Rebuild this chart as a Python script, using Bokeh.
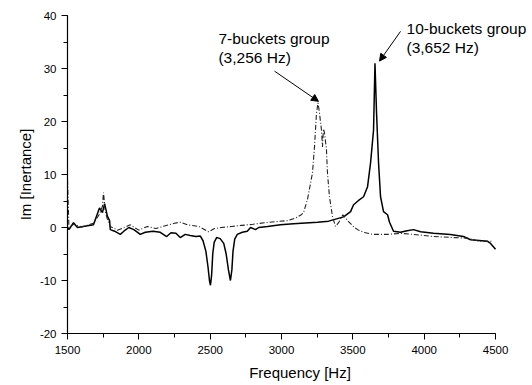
from bokeh.plotting import figure
from bokeh.models import Range1d, Label, Arrow, NormalHead, FixedTicker
from bokeh.embed import file_html
from bokeh.resources import INLINE

# 10-buckets group (solid)
freq10 = [1500, 1510, 1542, 1570, 1682, 1724, 1745, 1760, 1780, 1795, 1800, 1830, 1870, 1895,
          1930, 1965, 2010, 2045, 2100, 2150, 2195, 2225, 2260, 2290, 2325, 2360, 2400, 2430,
          2450, 2470, 2485, 2495, 2502, 2510, 2518, 2528, 2545, 2570, 2595, 2612, 2628, 2642,
          2652, 2660, 2672, 2690, 2725, 2760, 2783, 2818, 2840, 2902, 2993, 3084, 3252, 3330,
          3435, 3484, 3505, 3540, 3575, 3603, 3624, 3645, 3655, 3666, 3680, 3694, 3715, 3743,
          3757, 3785, 3834, 3880, 3925, 3975, 4065, 4184, 4275, 4325, 4444, 4465, 4500]
im10 = [0.0, -0.4, 0.9, 0.0, 0.5, 3.7, 2.8, 4.5, 2.1, 1.3, -0.4, -0.7, -1.3, -0.7,
        0.0, -0.4, -1.3, -0.9, -0.7, -0.9, -1.7, -1.0, -1.1, -1.9, -1.3, -1.5, -1.7, -1.6,
        -2.5, -4.5, -7.5, -10.0, -10.9, -9.0, -5.0, -2.8, -1.9, -2.1, -3.0, -5.0, -8.0, -10.0,
        -8.0, -4.5, -2.2, -1.3, -0.9, -0.7, 0.0, -0.4, 0.0, 0.2, 0.5, 0.7, 1.0, 1.2,
        2.0, 3.0, 4.3, 5.1, 5.8, 7.7, 12.2, 18.4, 31.0, 21.6, 12.2, 5.8, 3.0, 2.4,
        1.0, -0.7, -0.9, -0.6, -0.4, -0.8, -1.1, -1.3, -1.7, -2.3, -2.6, -3.0, -4.1]

# 7-buckets group (dash-dot)
freq7 = [1500, 1510, 1542, 1600, 1682, 1724, 1745, 1752, 1765, 1780, 1800, 1850, 1900,
         1940, 2000, 2060, 2120, 2180, 2250, 2290, 2340, 2420, 2488, 2530, 2580, 2650, 2720,
         2800, 2880, 2960, 3040, 3100, 3133, 3154, 3182, 3217, 3231, 3245, 3256, 3266, 3280,
         3287, 3294, 3301, 3315, 3322, 3336, 3357, 3378, 3400, 3430, 3470, 3510, 3540, 3575,
         3640, 3740, 3834, 3925, 4065, 4206, 4300, 4390, 4479]
im7 = [9.0, 0.0, 0.6, 0.1, 0.8, 2.5, 4.0, 6.6, 3.0, 1.5, 0.2, -0.5, 0.0,
       0.5, -0.5, 0.2, -0.2, 0.3, 0.8, 1.0, 0.5, 0.2, -0.8, -0.2, 0.0, 0.2, 0.4,
       0.6, 0.9, 1.1, 1.3, 1.8, 2.3, 2.8, 5.3, 10.3, 15.2, 21.6, 23.5, 21.6, 18.4,
       15.2, 18.6, 17.9, 14.7, 10.3, 5.8, 2.1, 0.2, 0.9, 2.4, 1.1, 0.0, -0.5, -0.9,
       -1.3, -1.3, -1.1, -1.3, -1.7, -1.9, -2.0, -2.6, -2.6]

x_ticks = [1500, 2000, 2500, 3000, 3500, 4000, 4500]
y_ticks = [-20, -10, 0, 10, 20, 30, 40]
y_tick_labels = ["-20", "-10", "0", "10", "20", "30", "40"]

FONT = "Liberation Sans"

# frame spans past 4500 so that the right-hand note is not clipped; axis bounded to data range
p = figure(width=532, height=383, output_backend="svg", toolbar_location=None,
           x_range=Range1d(1500, 4759), y_range=Range1d(-20, 40),
           min_border_left=67, min_border_right=0, min_border_top=15, min_border_bottom=49)
p.outline_line_color = None
p.grid.visible = False
p.background_fill_color = "white"
p.border_fill_color = "white"

p.line(freq10, im10, line_color="black", line_width=1.5)
p.line(freq7, im7, line_color="#222222", line_width=1.1, line_dash="5 2 1 2")

p.xaxis.bounds = (1500, 4500)
p.xaxis.ticker = FixedTicker(ticks=x_ticks, minor_ticks=list(range(1500, 4501, 250)))
p.yaxis.ticker = FixedTicker(ticks=y_ticks, minor_ticks=list(range(-20, 41, 5)))
p.yaxis.major_label_overrides = {t: s for t, s in zip(y_ticks, y_tick_labels)}
for ax in (p.xaxis[0], p.yaxis[0]):
    ax.major_tick_out = 6
    ax.major_tick_in = 0
    ax.minor_tick_out = 4
    ax.minor_tick_in = 0
    ax.axis_line_width = 1.2
    ax.major_label_text_font = FONT
    ax.major_label_text_font_size = "11.5px"
    ax.major_label_text_color = "black"
    ax.axis_label_text_font = FONT
    ax.axis_label_text_font_size = "15px"
    ax.axis_label_text_font_style = "normal"
    ax.axis_label_text_color = "black"
p.xaxis.axis_label = "Frequency [Hz]"
p.yaxis.axis_label = "Im [Inertance]"
p.xaxis.major_label_standoff = 6
p.xaxis.axis_label_standoff = 7
p.yaxis.major_label_standoff = 5
p.yaxis.axis_label_standoff = 3

def lab(x, y, t):
    p.add_layout(Label(x=x, y=y, text=t, text_font=FONT, text_font_size="15.5px",
                       text_baseline="middle", text_color="black"))

lab(2558, 35.7, "7-buckets group")
lab(2558, 32.1, "(3,256 Hz)")
lab(3876, 37.6, "10-buckets group")
lab(3876, 34.0, "(3,652 Hz)")

p.add_layout(Arrow(x_start=2951, y_start=29.5, x_end=3259, y_end=23.8,
                   line_width=1, end=NormalHead(size=7, fill_color="black", line_color="black")))
p.add_layout(Arrow(x_start=3834, y_start=37.0, x_end=3687, y_end=31.4,
                   line_width=1, end=NormalHead(size=7, fill_color="black", line_color="black")))

open("out.html", "w").write(file_html(p, INLINE))
